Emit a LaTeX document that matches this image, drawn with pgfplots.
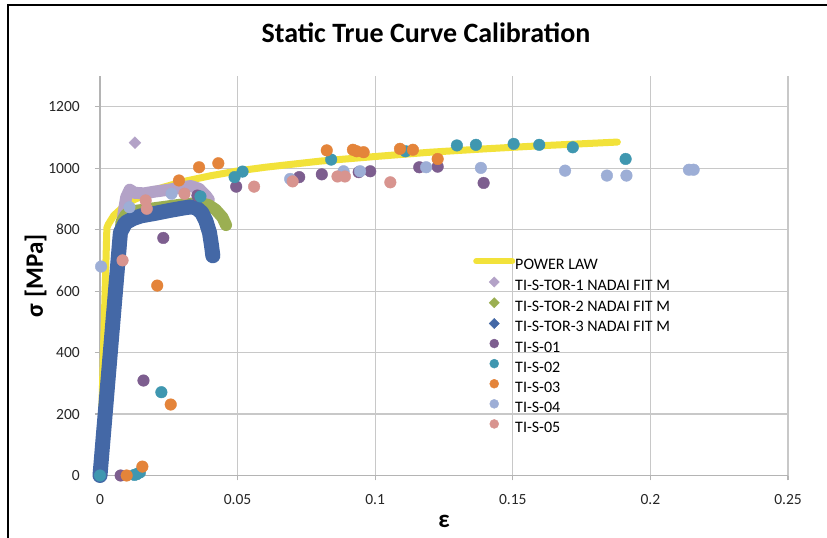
\documentclass[border=0pt]{standalone}
\usepackage{fontspec}
\setmainfont{Carlito}
\usepackage{pgfplots}
\pgfplotsset{compat=1.18}
\definecolor{cYel}{HTML}{F2E23A}
\definecolor{cT1}{HTML}{B3A2C7}
\definecolor{cT2}{HTML}{9BAF52}
\definecolor{cT3}{HTML}{4468A6}
\definecolor{cS1}{HTML}{7D5E8F}
\definecolor{cS2}{HTML}{3F97B0}
\definecolor{cS3}{HTML}{E4843A}
\definecolor{cS4}{HTML}{9DAED6}
\definecolor{cS5}{HTML}{D8948F}
\definecolor{grgray}{HTML}{C8C8C8}
\definecolor{axgray}{HTML}{B4B4B4}
\begin{document}
\begin{tikzpicture}
\fill[white] (-100bp,-62.5bp) rectangle (727bp,475.5bp);
\useasboundingbox (-100bp,-62.5bp) rectangle (727bp,475.5bp);
\draw[line width=2.5bp,black] (-92bp,-70bp) -- (-92bp,470.5bp) -- (740bp,470.5bp);
\begin{axis}[
  at={(0,0)}, anchor=south west,
  scale only axis, width=688bp, height=399.5bp,
  xmin=0, xmax=0.25, ymin=0, ymax=1300,
  xtick={0,0.05,0.1,0.15,0.2,0.25},
  xticklabels={0,0.05,0.1,0.15,0.2,0.25},
  ytick={0,200,400,600,800,1000,1200},
  yticklabels={0,200,400,600,800,1000,1200},
  axis x line=bottom, axis y line=left,
  axis line style={-, draw=axgray, line width=1.2bp},
  grid=major, major grid style={draw=grgray, line width=1.2bp},
  tick align=outside, major tick length=5bp,
  tick style={draw=axgray, line width=1.2bp},
  ticklabel style={font=\fontsize{15.5bp}{18bp}\selectfont, text=black!85},
  xticklabel style={anchor=north, inner sep=0pt, yshift=-14bp},
  yticklabel style={anchor=east, inner sep=0pt, xshift=-15bp},
  title={Static True Curve Calibration},
  title style={at={(axis description cs:0.4738,1.0926)}, anchor=center, font=\fontsize{28bp}{32bp}\selectfont\bfseries},
  xlabel={ε},
  xlabel style={at={(axis description cs:0.5,-0.11389)}, anchor=center, font=\fontsize{25bp}{28bp}\selectfont\bfseries},
  ylabel={σ [MPa]},
  ylabel style={at={(axis description cs:-0.09375,0.5)}, anchor=center, rotate=0, font=\fontsize{25bp}{28bp}\selectfont\bfseries},
  clip=false,
  legend image code/.code={\draw[mark repeat=2,mark phase=2,#1] plot coordinates {(0bp,5bp) (18bp,5bp) (36bp,5bp)};},
  legend style={draw=none, fill=none, at={(0.5422,0.544)}, anchor=north west,
    font=\fontsize{16bp}{19bp}\selectfont, inner sep=0pt,
    nodes={inner sep=0pt, text height=11bp, text depth=4bp},
    row sep=3.1bp, column sep=0bp},
  legend cell align=left,
]
% legend images
\addlegendimage{cYel, line width=6bp, line cap=round}
\addlegendentry{POWER LAW}
\addlegendimage{only marks, mark=square*, mark size=3.6bp, mark options={rotate=45, draw=cT1, fill=cT1}}
\addlegendentry{TI-S-TOR-1 NADAI FIT M}
\addlegendimage{only marks, mark=square*, mark size=3.6bp, mark options={rotate=45, draw=cT2, fill=cT2}}
\addlegendentry{TI-S-TOR-2 NADAI FIT M}
\addlegendimage{only marks, mark=square*, mark size=3.6bp, mark options={rotate=45, draw=cT3, fill=cT3}}
\addlegendentry{TI-S-TOR-3 NADAI FIT M}
\addlegendimage{only marks, mark=*, mark size=4.5bp, mark options={draw=cS1, fill=cS1}}
\addlegendentry{TI-S-01}
\addlegendimage{only marks, mark=*, mark size=4.5bp, mark options={draw=cS2, fill=cS2}}
\addlegendentry{TI-S-02}
\addlegendimage{only marks, mark=*, mark size=4.5bp, mark options={draw=cS3, fill=cS3}}
\addlegendentry{TI-S-03}
\addlegendimage{only marks, mark=*, mark size=4.5bp, mark options={draw=cS4, fill=cS4}}
\addlegendentry{TI-S-04}
\addlegendimage{only marks, mark=*, mark size=4.5bp, mark options={draw=cS5, fill=cS5}}
\addlegendentry{TI-S-05}

% POWER LAW
\addplot[forget plot, cYel, line width=7bp, line cap=round, line join=round, mark=none] coordinates {
(0,0) (0.0025,806) (0.003,817) (0.005,846) (0.01,887) (0.02,930) (0.03,956) (0.04,975)
(0.05,991) (0.06,1003) (0.08,1023) (0.1,1038) (0.12,1052) (0.14,1063) (0.16,1073) (0.188,1085)};
% TOR-1
\addplot[forget plot, cT1, line width=12bp, line cap=round, line join=round, mark=none] coordinates {
(0,0) (0.0085,850) (0.0095,905) (0.0108,930) (0.0125,920) (0.016,918) (0.02,924) (0.025,930)
(0.03,938) (0.033,942) (0.036,933) (0.0385,910) (0.0395,898)};
\addplot[forget plot, only marks, mark=square*, mark size=4.2bp, mark options={rotate=45, draw=cT1, fill=cT1}] coordinates {(0.0127,1083)};
% TOR-2
\addplot[forget plot, cT2, line width=12bp, line cap=round, line join=round, mark=none] coordinates {
(0,0) (0.0078,825) (0.0095,850) (0.012,860) (0.02,870) (0.03,882) (0.036,887) (0.0395,880)
(0.042,865) (0.0445,840) (0.0458,815)};
% TOR-3
\addplot[forget plot, cT3, line width=15bp, line cap=round, line join=round, mark=none] coordinates {
(0,0) (0.0074,790) (0.0092,822) (0.012,836) (0.015,845) (0.02,853) (0.025,862) (0.03,870)
(0.033,874) (0.035,871) (0.037,855) (0.0385,828) (0.0398,790) (0.0405,750) (0.041,715)};
% TI-S-01
\addplot[forget plot, only marks, mark=*, mark size=5.8bp, mark options={draw=cS1, fill=cS1}] coordinates {
(0.0075,0) (0.0158,309) (0.023,773) (0.0354,911) (0.0495,940) (0.0724,971) (0.0806,980)
(0.094,987) (0.0982,990) (0.116,1003) (0.1227,1005) (0.1394,952)};
% TI-S-02
\addplot[forget plot, only marks, mark=*, mark size=5.8bp, mark options={draw=cS2, fill=cS2}] coordinates {
(0,0) (0.0125,2) (0.0133,4) (0.0145,10) (0.0223,271) (0.0365,908) (0.0489,971) (0.0518,989)
(0.084,1028) (0.111,1055) (0.1297,1074) (0.1366,1076) (0.1503,1079) (0.1596,1076)
(0.1718,1068) (0.191,1030)};
% TI-S-03
\addplot[forget plot, only marks, mark=*, mark size=5.8bp, mark options={draw=cS3, fill=cS3}] coordinates {
(0.0097,0) (0.0154,29) (0.0257,231) (0.0208,618) (0.0287,960) (0.036,1003) (0.043,1016)
(0.0824,1058) (0.0919,1060) (0.0933,1055) (0.0958,1052) (0.109,1063) (0.1137,1060) (0.1227,1030)};
% TI-S-04
\addplot[forget plot, only marks, mark=*, mark size=5.8bp, mark options={draw=cS4, fill=cS4}] coordinates {
(0.0004,680) (0.0107,873) (0.026,917) (0.0691,965) (0.0885,990) (0.0945,990) (0.1185,1003)
(0.1384,1001) (0.169,992) (0.1842,976) (0.1913,976) (0.214,995) (0.2157,995)};
% TI-S-05
\addplot[forget plot, only marks, mark=*, mark size=5.8bp, mark options={draw=cS5, fill=cS5}] coordinates {
(0.0082,700) (0.0166,895) (0.017,868) (0.0307,917) (0.056,940) (0.070,957) (0.0863,973)
(0.089,973) (0.1055,954)};
\end{axis}
\end{tikzpicture}
\end{document}
